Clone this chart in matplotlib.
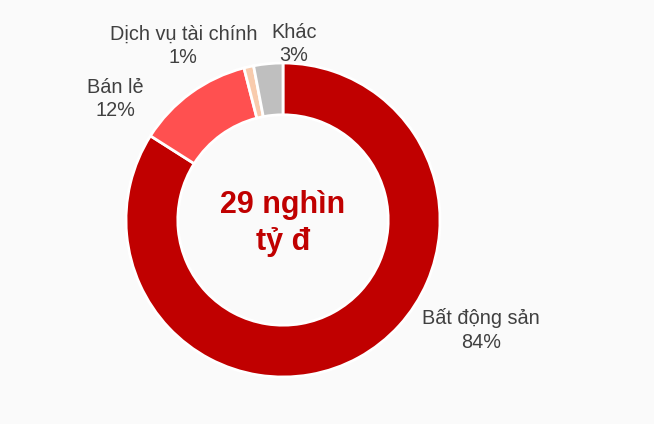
import matplotlib.pyplot as plt

plt.rcParams['font.family'] = ['Liberation Sans', 'DejaVu Sans']

# Dữ liệu
sectors = ['Bất động sản', 'Bán lẻ', 'Dịch vụ tài chính', 'Khác']
shares = [84, 12, 1, 3]
colors = ['#C00000', '#FF5050', '#F8CBAD', '#BFBFBF']
center_label = '29 nghìn\ntỷ đ'

# vị trí nhãn (đơn vị bán kính)
label_pos = [(1.26, -0.70), (-1.07, 0.77), (-0.635, 1.11), (0.07, 1.12)]

W, H = 654, 424
cx, cy, R = 283, 220, 157

fig = plt.figure(figsize=(W / 100, H / 100), dpi=100)
fig.patch.set_facecolor('#fafafa')
ax = fig.add_axes([0, 0, 1, 1])

ax.pie(shares, colors=colors, startangle=90, counterclock=False,
       wedgeprops=dict(width=0.33, edgecolor='white', linewidth=2))

for name, val, (x, y) in zip(sectors, shares, label_pos):
    ax.text(x, y, f'{name}\n{val}%', ha='center', va='center',
            fontsize=14.3, color='#404040', linespacing=1.3)

ax.text(0, -0.02, center_label, ha='center', va='center', fontsize=22,
        fontweight='bold', color='#C00000', linespacing=1.3)

ax.set_xlim(-cx / R, (W - cx) / R)
ax.set_ylim(-(H - cy) / R, cy / R)
ax.set_aspect('auto')
ax.axis('off')

fig.savefig('out.png', dpi=100, facecolor=fig.get_facecolor())
